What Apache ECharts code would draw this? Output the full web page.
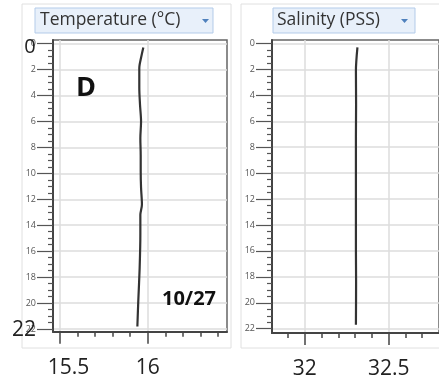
<!DOCTYPE html>
<html>
<head>
<meta charset="utf-8">
<script src="https://cdn.jsdelivr.net/npm/echarts@6/dist/echarts.min.js"></script>
<style>
  html, body { margin: 0; padding: 0; background: #fff; }
  #chart { width: 439px; height: 380px; }
</style>
</head>
<body>
<div id="chart"></div>
<script>
// depth (m) vs value
const tempDepth = [0.3, 1.1, 1.9, 3.4, 4.7, 6.0, 7.3, 8.6, 9.8, 11.1, 12.4, 13.2, 14.7, 17.3, 19.9, 21.8]
const tempValue = [15.975, 15.962, 15.952, 15.952, 15.956, 15.962, 15.958, 15.960, 15.960, 15.962, 15.967, 15.958, 15.958, 15.954, 15.946, 15.941]

const salDepth = [0.3, 2.1, 4.7, 7.2, 9.7, 11.0, 13.3, 15.9, 18.4, 21.7]
const salValue = [32.314, 32.305, 32.306, 32.305, 32.305, 32.305, 32.305, 32.305, 32.306, 32.305]

// tick labels
const depthTicks = [0, 2, 4, 6, 8, 10, 12, 14, 16, 18, 20, 22]
const depthMinor = [0.5, 1, 1.5, 2.5, 3, 3.5, 4.5, 5, 5.5, 6.5, 7, 7.5, 8.5, 9, 9.5, 10.5, 11, 11.5,
  12.5, 13, 13.5, 14.5, 15, 15.5, 16.5, 17, 17.5, 18.5, 19, 19.5, 20.5, 21, 21.5]
const tempTicks = [15.5, 16]
const tempMinor = [15.6, 15.7, 15.8, 15.9, 16.1, 16.2, 16.3, 16.4]
const salTicks = [32, 32.5]
const salMinor = [31.9, 32.1, 32.2, 32.3, 32.4, 32.6, 32.7]

const chart = echarts.init(document.getElementById('chart'))

const font = 'Open Sans'
const gridLine = { show: true, lineStyle: { color: '#dcdcdc', width: 1.5 } }

function majorX(grid, min, max, ticks) {
  return {
    type: 'value', gridIndex: grid, min: min, max: max, position: 'bottom',
    axisLine: { show: true, onZero: false, lineStyle: { color: '#444', width: 2 } },
    axisTick: { show: true, customValues: ticks, length: 12, lineStyle: { color: '#444', width: 1.5 } },
    axisLabel: {
      show: true, customValues: ticks, margin: 26, fontSize: 21, color: '#222', fontFamily: font,
      formatter: v => (v === 15.5 ? '{s|15.5}' : String(v)),
      rich: { s: { fontSize: 21, color: '#222', fontFamily: font, padding: [0, 0, 0, 17] } },
    },
    splitLine: gridLine,
  }
}
function minorX(grid, min, max, ticks) {
  return {
    type: 'value', gridIndex: grid, min: min, max: max, position: 'bottom',
    axisLine: { show: false, onZero: false },
    axisTick: { show: true, customValues: ticks, length: 5, lineStyle: { color: '#444', width: 1.5 } },
    axisLabel: { show: false },
    splitLine: { show: false },
  }
}
function majorY(grid, min, max) {
  return {
    type: 'value', gridIndex: grid, inverse: true, min: min, max: max, position: 'left',
    axisLine: { show: true, onZero: false, lineStyle: { color: '#444', width: 2 } },
    axisTick: { show: true, customValues: depthTicks, length: 16, lineStyle: { color: '#555', width: 1.2 } },
    axisLabel: { show: true, customValues: depthTicks, margin: 17, fontSize: 9, color: '#555', fontFamily: font },
    splitLine: gridLine,
  }
}
function minorY(grid, min, max) {
  return {
    type: 'value', gridIndex: grid, inverse: true, min: min, max: max, position: 'left',
    axisLine: { show: false, onZero: false },
    axisTick: { show: true, customValues: depthMinor, length: 5, lineStyle: { color: '#555', width: 1.2 } },
    axisLabel: { show: false },
    splitLine: { show: false },
  }
}

const profileLine = {
  type: 'line',
  showSymbol: false,
  smooth: 0.3,
  lineStyle: { color: '#333', width: 2.2 },
  z: 5,
}

chart.setOption({
  backgroundColor: '#fff',
  animation: false,
  grid: [
    { left: 53, top: 40, width: 174, height: 291.7, show: true, borderColor: '#666', borderWidth: 1.5, backgroundColor: '#fff' },
    { left: 272, top: 40, width: 173, height: 296, show: true, borderColor: '#666', borderWidth: 1.5, backgroundColor: '#fff' },
  ],
  xAxis: [
    majorX(0, 15.46, 16.452, tempTicks),
    minorX(0, 15.46, 16.452, tempMinor),
    majorX(1, 31.805, 32.8, salTicks),
    minorX(1, 31.805, 32.8, salMinor),
  ],
  yAxis: [
    majorY(0, -0.27, 22.2),
    minorY(0, -0.27, 22.2),
    majorY(1, -0.27, 22.33),
    minorY(1, -0.27, 22.33),
  ],
  series: [
    Object.assign({}, profileLine, {
      xAxisIndex: 0, yAxisIndex: 0,
      data: tempValue.map((v, i) => [v, tempDepth[i]]),
    }),
    Object.assign({}, profileLine, {
      xAxisIndex: 2, yAxisIndex: 2,
      data: salValue.map((v, i) => [v, salDepth[i]]),
    }),
  ],
  graphic: [
    // panel outlines
    { type: 'rect', z: -1, shape: { x: 22, y: 4, width: 209, height: 344 }, style: { fill: 'none', stroke: '#e0e0e0', lineWidth: 1 } },
    { type: 'rect', z: -1, shape: { x: 241, y: 4, width: 210, height: 344 }, style: { fill: 'none', stroke: '#e0e0e0', lineWidth: 1 } },
    // dropdown headers
    { type: 'rect', z: 50, shape: { x: 35, y: 8, width: 178, height: 25 }, style: { fill: '#e8f0fa', stroke: '#b3cbe9', lineWidth: 1 } },
    { type: 'text', z: 51, x: 40, y: 20.5, style: { text: 'Temperature (°C)', font: '17.5px "Open Sans"', fill: '#333', verticalAlign: 'middle' } },
    { type: 'polygon', z: 51, shape: { points: [[202, 19], [209, 19], [205.5, 23]] }, style: { fill: '#4f81bd' } },
    { type: 'rect', z: 50, shape: { x: 273, y: 8, width: 142, height: 25 }, style: { fill: '#e8f0fa', stroke: '#b3cbe9', lineWidth: 1 } },
    { type: 'text', z: 51, x: 277, y: 20.5, style: { text: 'Salinity (PSS)', font: '17.5px "Open Sans"', fill: '#333', verticalAlign: 'middle' } },
    { type: 'polygon', z: 51, shape: { points: [[401, 19], [408, 19], [404.5, 23]] }, style: { fill: '#4f81bd' } },
    // annotations
    { type: 'text', z: 60, x: 76, y: 88, style: { text: 'D', font: 'bold 27px "Open Sans"', fill: '#111', verticalAlign: 'middle' } },
    { type: 'text', z: 60, x: 162, y: 299, style: { text: '10/27', font: 'bold 20px "Open Sans"', fill: '#111', verticalAlign: 'middle' } },
    { type: 'text', z: 60, x: 30, y: 47, style: { text: '0', font: '20px "Open Sans"', fill: '#222', align: 'center', verticalAlign: 'middle' } },
    { type: 'text', z: 60, x: 24, y: 330, style: { text: '22', font: '21px "Open Sans"', fill: '#222', align: 'center', verticalAlign: 'middle' } },
  ],
})
</script>
</body>
</html>
